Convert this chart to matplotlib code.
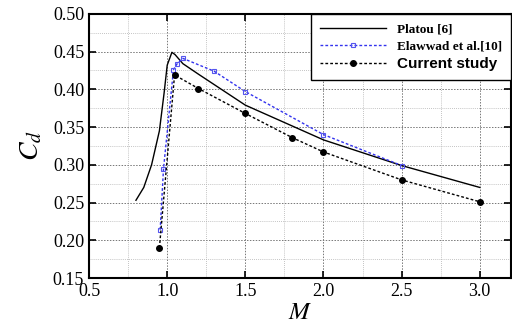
import matplotlib.pyplot as plt
from matplotlib.ticker import MultipleLocator
from matplotlib.font_manager import FontProperties

plt.rcParams["mathtext.fontset"] = "stix"

# Platou [6]
platou_m = [0.80, 0.85, 0.90, 0.95, 0.98, 1.00, 1.03, 1.05, 1.10, 1.20, 1.50, 2.00, 2.50, 3.00]
platou_cd = [0.253, 0.270, 0.300, 0.345, 0.395, 0.432, 0.449, 0.446, 0.434, 0.420, 0.379, 0.333, 0.299, 0.270]

# Elawwad et al. [10]
elaw_m = [0.955, 0.976, 1.04, 1.064, 1.10, 1.30, 1.50, 2.00, 2.50]
elaw_cd = [0.214, 0.294, 0.426, 0.434, 0.441, 0.424, 0.397, 0.340, 0.299]

# Current study
cur_m = [0.95, 1.047, 1.20, 1.50, 1.80, 2.00, 2.50, 3.00]
cur_cd = [0.190, 0.419, 0.401, 0.368, 0.336, 0.317, 0.280, 0.251]

fig = plt.figure(figsize=(5.12, 3.29), dpi=100)
ax = fig.add_axes([0.174, 0.155, 0.824, 0.803])

ax.plot(platou_m, platou_cd, color="black", lw=1.0, label="Platou [6]")
ax.plot(elaw_m, elaw_cd, color="#3333ee", lw=1.0, ls=(0, (2, 1.5)), marker="s",
        ms=3.5, mfc="none", mec="#5555ee", mew=0.8, label="Elawwad et al.[10]")
ax.plot(cur_m, cur_cd, color="black", lw=1.0, ls=(0, (2, 1.5)), marker="o",
        ms=4, label="Current study")

ax.set_xlim(0.5, 3.2)
ax.set_ylim(0.15, 0.50)
ax.xaxis.set_major_locator(MultipleLocator(0.5))
ax.xaxis.set_minor_locator(MultipleLocator(0.25))
ax.yaxis.set_major_locator(MultipleLocator(0.05))
ax.yaxis.set_minor_locator(MultipleLocator(0.025))
ax.set_xticklabels([f"{v:.1f}" for v in ax.get_xticks()], family="Liberation Serif", fontsize=13)
ax.set_yticklabels([f"{v:.2f}" for v in ax.get_yticks()], family="Liberation Serif", fontsize=13)

ax.grid(which="major", color="#777777", ls=(0, (1.5, 1.5)), lw=0.7)
ax.grid(which="minor", color="#b0b0b0", ls=(0, (1, 1.5)), lw=0.6)
ax.tick_params(which="major", direction="in", length=5, width=1.2, top=True, right=True)
ax.tick_params(which="minor", length=0)
for s in ax.spines.values():
    s.set_linewidth(1.5)

ax.set_xlabel("$M$", fontsize=18, labelpad=0)
ax.set_ylabel("$C_d$", fontsize=20, labelpad=6)

leg = ax.legend(loc="upper right", frameon=True, fancybox=False, edgecolor="black",
                handlelength=5, borderaxespad=0, framealpha=1, labelspacing=0.35,
                borderpad=0.7,
                prop=FontProperties(family="Liberation Serif", weight="bold", size=9.5))
leg.get_frame().set_linewidth(1.0)
leg.get_texts()[2].set_fontproperties(FontProperties(family="Liberation Sans", weight="bold", size=11))

fig.savefig("out.png", dpi=100)
